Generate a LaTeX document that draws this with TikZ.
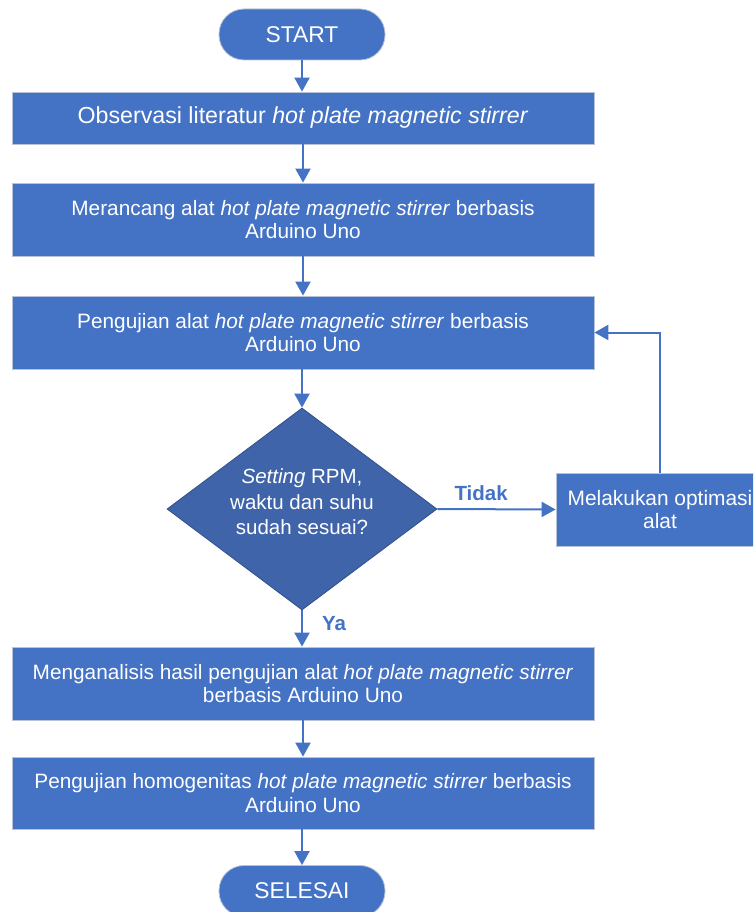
\documentclass[tikz,border=0pt]{standalone}
\usepackage{fontspec}
\setmainfont{Liberation Sans}
\usetikzlibrary{shapes.geometric,arrows.meta}
\definecolor{boxblue}{HTML}{4472C4}
\definecolor{diamblue}{HTML}{3F64AA}
\definecolor{edgegrey}{RGB}{185,195,215}
\tikzset{
  proc/.style={rectangle, fill=boxblue, draw=edgegrey, line width=0.8pt, text=white,
    minimum width=582pt, align=center, inner sep=0pt,
    font=\fontsize{20.8}{23.5}\selectfont},
  term/.style={rectangle, rounded corners=25pt, fill=boxblue, draw=edgegrey, line width=0.8pt,
    text=white, minimum width=166pt, minimum height=51pt, inner sep=0pt,
    font=\fontsize{22.8}{26}\selectfont},
  conn/.style={draw=boxblue, line width=2pt, -{Triangle[length=14pt,width=15pt]}},
  lbl/.style={text=boxblue, font=\fontsize{20.5}{24}\selectfont\bfseries, inner sep=0pt}
}
\begin{document}
\begin{tikzpicture}[x=1pt,y=-1pt]
\useasboundingbox (0,0) rectangle (753,912);
\clip (0,0) rectangle (753,912);
\fill[white] (0,0) rectangle (753,912);

\node[term] (start) at (302,34.5) {START};
\node[proc, minimum height=52pt, font=\fontsize{23.2}{26}\selectfont] (b1) at (303,118) {Observasi literatur \textit{hot plate magnetic stirrer}};
\node[proc, minimum height=73pt] (b2) at (303,219.5) {Merancang alat \textit{hot plate magnetic stirrer} berbasis\\Arduino Uno};
\node[proc, minimum height=73pt] (b3) at (303,332.5) {Pengujian alat \textit{hot plate magnetic stirrer} berbasis\\Arduino Uno};
\node[diamond, fill=diamblue, draw=diamblue!80!black, line width=0.8pt, minimum width=270pt, minimum height=202pt, inner sep=0pt] (dec) at (302,509) {};
\node[text=white, align=center, inner sep=0pt, font=\fontsize{20.5}{25.5}\selectfont] (dectext) at (302,502) {\textit{Setting} RPM,\\waktu dan suhu\\sudah sesuai?};
\node[proc, minimum width=208pt, minimum height=73pt, font=\fontsize{20.9}{23.5}\selectfont] (opt) at (660,509.5) {Melakukan optimasi\\alat};
\node[proc, minimum height=73pt] (b4) at (303,683.5) {Menganalisis hasil pengujian alat \textit{hot plate magnetic stirrer}\\berbasis Arduino Uno};
\node[proc, minimum height=72pt] (b5) at (303,793) {Pengujian homogenitas \textit{hot plate magnetic stirrer} berbasis\\Arduino Uno};
\node[term] (end) at (302,891) {SELESAI};

\draw[conn] (start) -- (start|-b1.north);
\draw[conn] (b1) -- (b2);
\draw[conn] (b2) -- (b3);
\draw[conn] (b3.south-|dec.north) -- (dec.north);
\draw[conn] (dec.east) -- (opt.west) node[lbl, pos=0.37, above=7pt] (tidak) {Tidak};
\coordinate (fb) at (opt.north|-b3.east);
\draw[conn] (opt.north) -- (fb) -- (b3.east);
\draw[conn] (dec.south) -- (dec.south|-b4.north) node[lbl, pos=0.35, right=19pt] (ya) {Ya};
\draw[conn] (b4) -- (b5);
\draw[conn] (b5.south-|end.north) -- (end.north);
\end{tikzpicture}
\end{document}
